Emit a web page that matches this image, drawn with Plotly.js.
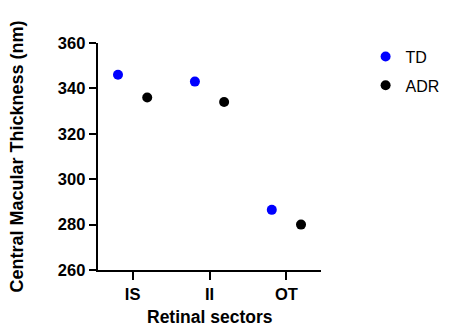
<!DOCTYPE html>
<html><head><meta charset="utf-8">
<script src="https://cdn.plot.ly/plotly-3.0.1.min.js"></script>
<style>body{margin:0;padding:0;background:#fff}#chart{width:456px;height:327px}</style>
</head><body><div id="chart"></div>
<script>
const categories = ["IS", "II", "OT"];
const tdValues = [346, 343, 286.5];
const adrValues = [336, 334, 280];
const seriesNames = ["TD", "ADR"];
const yTicks = [260, 280, 300, 320, 340, 360];
const xTitle = "Retinal sectors";
const yTitle = "Central Macular Thickness (nm)";

const idx = categories.map((c, i) => i);
const off = 0.19;
const font = {family: "Liberation Sans, Arial, sans-serif", color: "#000"};

const traces = [
  {x: idx.map(i => i - off), y: tdValues, name: seriesNames[0], type: "scatter", mode: "markers",
   legendgroup: "a", marker: {color: "#0000ff", size: 10}},
  {x: idx.map(i => i + off), y: adrValues, name: seriesNames[1], type: "scatter", mode: "markers",
   legendgroup: "b", marker: {color: "#000000", size: 10}}
];

const layout = {
  width: 456, height: 327,
  margin: {l: 98, r: 128, t: 43, b: 57},
  paper_bgcolor: "#fff", plot_bgcolor: "#fff",
  font: Object.assign({size: 16}, font),
  showlegend: true,
  legend: {x: 1.2, y: 1.015, xanchor: "left", yanchor: "top", tracegroupgap: 5, traceorder: "grouped",
    font: Object.assign({size: 16}, font), itemsizing: "trace"},
  xaxis: {
    range: [-0.45, 2.45], tickvals: idx, ticktext: categories,
    showline: true, linewidth: 2.3, linecolor: "#000", showgrid: false, zeroline: false,
    ticks: "outside", ticklen: 8, tickwidth: 2, tickcolor: "#000",
    tickfont: Object.assign({size: 16.5, weight: "bold"}, font)
  },
  yaxis: {
    range: [260, 360], tickvals: yTicks,
    showline: true, linewidth: 2.3, linecolor: "#000", showgrid: false, zeroline: false,
    ticks: "outside", ticklen: 7, tickwidth: 2, tickcolor: "#000",
    tickfont: Object.assign({size: 16.5, weight: "bold"}, font),
    title: {text: yTitle, font: Object.assign({size: 18, weight: "bold"}, font), standoff: 30}
  },
  annotations: [{
    text: xTitle, xref: "paper", yref: "paper", x: 0.5, y: -0.158,
    xanchor: "center", yanchor: "top", showarrow: false, borderpad: 0,
    font: Object.assign({size: 17.5, weight: "bold"}, font)
  }]
};
Plotly.newPlot("chart", traces, layout, {displayModeBar: false, staticPlot: true});
</script></body></html>
